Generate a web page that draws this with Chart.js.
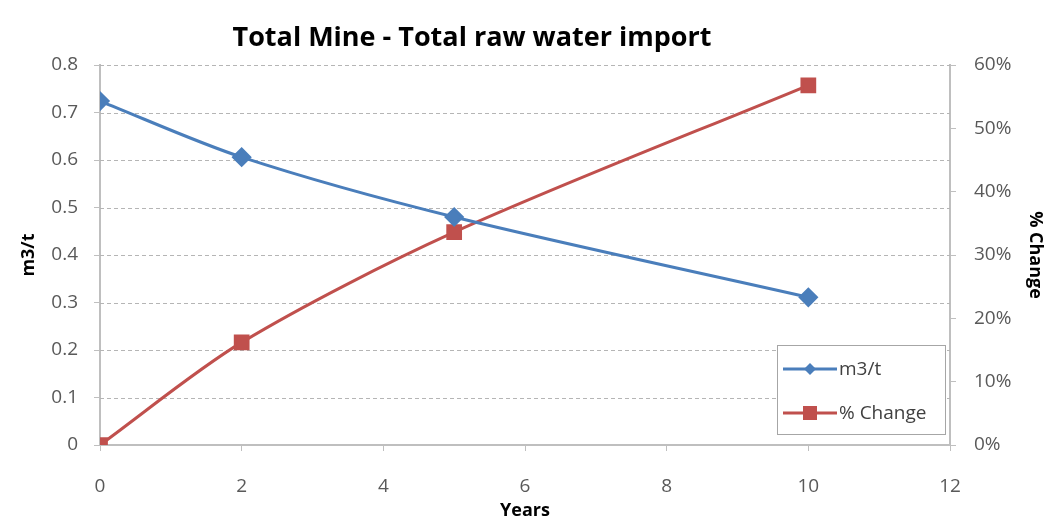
<!DOCTYPE html>
<html>
<head>
<meta charset="utf-8">
<script src="https://cdn.jsdelivr.net/npm/chart.js@4"></script>
<style>
  html, body { margin: 0; padding: 0; background: #fff; }
  #wrap { width: 1046px; height: 522px; position: relative; }
</style>
</head>
<body>
<div id="wrap"><canvas id="chart"></canvas></div>
<script>
// Years on the x axis
const years = [0, 2, 5, 10];
// m3 of raw water per tonne
const m3PerTonne = [0.724, 0.606, 0.48, 0.311];
// percentage change against year 0
const pctChange = [0, 16.2, 33.6, 56.8];

const chartTitle = "Total Mine - Total raw water import";
const fontFamily = "'Open Sans', 'Liberation Sans', sans-serif";

const BLUE = "#4a7ebb";
const RED = "#c0504d";

// Draws the title and the little boxed legend inside the plot, like the Excel original
const drawExtras = {
  id: "drawExtras",
  afterDraw(chart) {
    const ctx = chart.ctx;
    const area = chart.chartArea;
    ctx.save();
    // title
    ctx.fillStyle = "#000";
    ctx.font = "bold 27px " + fontFamily;
    ctx.textAlign = "center";
    ctx.textBaseline = "middle";
    ctx.fillText(chartTitle, 472, 38);

    // legend box
    const bx = area.right - 173, by = area.bottom - 100, bw = 168, bh = 89;
    ctx.fillStyle = "#fff";
    ctx.fillRect(bx, by, bw, bh);
    ctx.strokeStyle = "#a6a6a6";
    ctx.lineWidth = 1;
    ctx.strokeRect(bx + 0.5, by + 0.5, bw, bh);

    chart.data.datasets.forEach((ds, i) => {
      const y = by + 24 + i * 44;
      const x0 = bx + 6, x1 = bx + 60;
      ctx.strokeStyle = ds.borderColor;
      ctx.lineWidth = 3;
      ctx.beginPath();
      ctx.moveTo(x0, y);
      ctx.lineTo(x1, y);
      ctx.stroke();
      ctx.fillStyle = ds.backgroundColor;
      const mx = (x0 + x1) / 2;
      if (ds.pointStyle === "rectRot") {
        ctx.beginPath();
        ctx.moveTo(mx, y - 6);
        ctx.lineTo(mx + 6, y);
        ctx.lineTo(mx, y + 6);
        ctx.lineTo(mx - 6, y);
        ctx.closePath();
        ctx.fill();
      } else {
        ctx.fillRect(mx - 7, y - 7, 14, 14);
      }
      ctx.fillStyle = "#404040";
      ctx.font = "19px " + fontFamily;
      ctx.textAlign = "left";
      ctx.fillText(ds.label, x1 + 2, y + 1);
    });
    ctx.restore();
  }
};

const tickFont = { family: fontFamily, size: 19 };

new Chart(document.getElementById("chart"), {
  type: "line",
  data: {
    datasets: [
      {
        label: "m3/t",
        data: years.map((y, i) => ({ x: y, y: m3PerTonne[i] })),
        borderColor: BLUE,
        backgroundColor: BLUE,
        borderWidth: 3,
        pointStyle: "rectRot",
        pointRadius: 8,
        pointHoverRadius: 8,
        tension: 0.3,
        yAxisID: "y"
      },
      {
        label: "% Change",
        data: years.map((y, i) => ({ x: y, y: pctChange[i] })),
        borderColor: RED,
        backgroundColor: RED,
        borderWidth: 3,
        pointStyle: "rect",
        pointRadius: 9,
        pointHoverRadius: 9,
        tension: 0.3,
        yAxisID: "y1"
      }
    ]
  },
  options: {
    responsive: true,
    maintainAspectRatio: false,
    animation: false,
    layout: { padding: { top: 65, right: 0, bottom: 0, left: 18 } },
    plugins: {
      legend: { display: false },
      title: { display: false },
      tooltip: { enabled: false }
    },
    scales: {
      x: {
        type: "linear",
        min: 0,
        max: 12,
        ticks: { stepSize: 2, color: "#595959", font: tickFont, padding: 24 },
        grid: { display: true, drawOnChartArea: false, color: "#bfbfbf", tickLength: 6 },
        border: { color: "#bfbfbf", width: 2 },
        title: {
          display: true,
          text: "Years",
          color: "#000",
          font: { family: fontFamily, size: 18, weight: "bold" },
          padding: { top: 0, bottom: 0 }
        },
        afterFit: s => { s.height = 77; }
      },
      y: {
        position: "left",
        min: 0,
        max: 0.8,
        ticks: { stepSize: 0.1, color: "#595959", font: tickFont, padding: 16 },
        grid: { drawOnChartArea: false, color: "#bfbfbf", tickLength: 6 },
        border: { color: "#bfbfbf", width: 2 },
        title: {
          display: true,
          text: "m3/t",
          color: "#000",
          font: { family: fontFamily, size: 18, weight: "bold" },
          padding: { top: 0, bottom: 0 }
        },
        afterFit: s => { s.width = 82; }
      },
      y1: {
        position: "right",
        min: 0,
        max: 60,
        ticks: {
          stepSize: 10,
          color: "#595959",
          font: tickFont,
          padding: 18,
          callback: v => v + "%"
        },
        grid: { drawOnChartArea: false, color: "#bfbfbf", tickLength: 6 },
        border: { color: "#bfbfbf", width: 2 },
        title: {
          display: true,
          text: "% Change",
          color: "#000",
          font: { family: fontFamily, size: 18, weight: "bold" },
          padding: { top: 0, bottom: 0 }
        },
        afterFit: s => { s.width = 96; }
      }
    }
  },
  plugins: [
    {
      // dashed horizontal grid lines on the left axis
      id: "dashGrid",
      beforeDatasetsDraw(chart) {
        const ctx = chart.ctx;
        const area = chart.chartArea;
        const ys = chart.scales.y;
        ctx.save();
        ctx.strokeStyle = "#b5b5b5";
        ctx.lineWidth = 1.2;
        ctx.setLineDash([4, 3]);
        ys.ticks.forEach(t => {
          if (t.value === 0) return;
          const py = Math.round(ys.getPixelForValue(t.value)) + 0.5;
          ctx.beginPath();
          ctx.moveTo(area.left, py);
          ctx.lineTo(area.right, py);
          ctx.stroke();
        });
        ctx.restore();
      }
    },
    drawExtras
  ]
});
</script>
</body>
</html>
